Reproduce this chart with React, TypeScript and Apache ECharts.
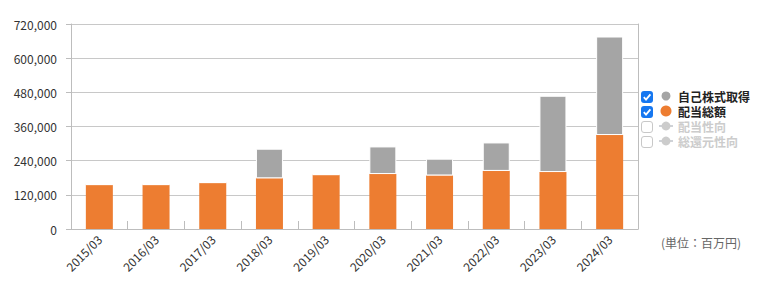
import React, { useEffect, useRef } from "react";
import * as echarts from "echarts";

const categories = ["2015/03", "2016/03", "2017/03", "2018/03", "2019/03", "2020/03", "2021/03", "2022/03", "2023/03", "2024/03"];
const dividendTotal = [156000, 156000, 163000, 178000, 191000, 193000, 188000, 204000, 200000, 330000];
const buyback = [0, 0, 0, 104000, 0, 97000, 59000, 100000, 268000, 346000];
const payoutRatio: number[] = [];
const totalReturnRatio: number[] = [];
const yTicks = { min: 0, max: 720000, interval: 120000 };
const unitLabel = "(単位：百万円)";

const FONT = "'Noto Sans CJK JP', 'Noto Sans', sans-serif";

export default function App() {
  const ref = useRef<HTMLDivElement>(null);
  useEffect(() => {
    if (!ref.current) return;
    const chart = echarts.init(ref.current, undefined, { renderer: "svg" });
    const checkbox = (y: number, checked: boolean) =>
      checked
        ? {
            type: "group",
            x: 641,
            y,
            children: [
              { type: "rect", shape: { x: 0, y: 0, width: 12, height: 12, r: 3 }, style: { fill: "#1677f0" } },
              { type: "polyline", shape: { points: [[2.8, 6.2], [5, 8.6], [9.4, 3.4]] }, style: { stroke: "#fff", lineWidth: 1.8, fill: "none" } },
            ],
          }
        : {
            type: "rect",
            x: 641,
            y,
            shape: { x: 0.5, y: 0.5, width: 11, height: 11, r: 2.5 },
            style: { fill: "#fff", stroke: "#c8c8c8", lineWidth: 1 },
          };
    chart.setOption({
      animation: false,
      textStyle: { fontFamily: FONT },
      grid: { left: 71, top: 24, width: 567, height: 205, containLabel: false, outerBoundsMode: "none" },
      legend: {
        orient: "vertical",
        left: 658,
        top: 89,
        padding: 0,
        itemWidth: 14,
        itemHeight: 11,
        itemGap: 1,
        data: [
          { name: "自己株式取得", icon: "circle" },
          { name: "配当総額", icon: "circle" },
          { name: "配当性向" },
          { name: "総還元性向" },
        ],
        selected: { 配当性向: false, 総還元性向: false },
        textStyle: { fontSize: 12, fontWeight: "bold", color: "#222", fontFamily: FONT, lineHeight: 14 },
        inactiveColor: "#ccc",
      },
      xAxis: {
        type: "category",
        data: categories,
        boundaryGap: true,
        axisLine: { lineStyle: { color: "#bdbdbd", width: 1 } },
        axisTick: { show: true, inside: true, length: 8, lineStyle: { color: "#bdbdbd" } },
        axisLabel: { rotate: 45, interval: 0, fontSize: 12, color: "#333", margin: 8 },
      },
      yAxis: [
        {
          type: "value",
          min: yTicks.min,
          max: yTicks.max,
          interval: yTicks.interval,
          axisLine: { show: true, lineStyle: { color: "#bdbdbd" } },
          axisTick: { show: true, length: 5, lineStyle: { color: "#bdbdbd" } },
          axisLabel: { fontSize: 12, color: "#333", margin: 14, formatter: (v: number) => v.toLocaleString("en-US") },
          splitLine: { lineStyle: { color: "#c8c8c8" } },
        },
        {
          type: "value",
          min: 0,
          max: 100,
          position: "right",
          axisLine: { show: true, lineStyle: { color: "#bdbdbd" } },
          axisTick: { show: false },
          axisLabel: { show: false },
          splitLine: { show: false },
        },
      ],
      series: [
        {
          name: "配当総額",
          type: "bar",
          stack: "total",
          data: dividendTotal,
          barWidth: 27,
          itemStyle: { color: "#ED7D31" },
        },
        {
          name: "自己株式取得",
          type: "bar",
          stack: "total",
          data: buyback,
          barWidth: 27,
          itemStyle: { color: "#A5A5A5", borderColor: "#fff", borderWidth: 1 },
        },
        { name: "配当性向", type: "line", yAxisIndex: 1, data: payoutRatio, symbol: "circle", symbolSize: 4, itemStyle: { color: "#aaa" } },
        { name: "総還元性向", type: "line", yAxisIndex: 1, data: totalReturnRatio, symbol: "circle", symbolSize: 4, itemStyle: { color: "#aaa" } },
      ],
      graphic: [
        checkbox(91, true),
        checkbox(106, true),
        checkbox(121, false),
        checkbox(136, false),
        {
          type: "text",
          left: 661,
          top: 236,
          style: { text: unitLabel, fill: "#666", fontSize: 12, fontFamily: FONT },
        },
      ],
    });
    return () => chart.dispose();
  }, []);
  return <div ref={ref} style={{ width: 779, height: 290, position: "absolute", left: 0, top: 0 }} />;
}
